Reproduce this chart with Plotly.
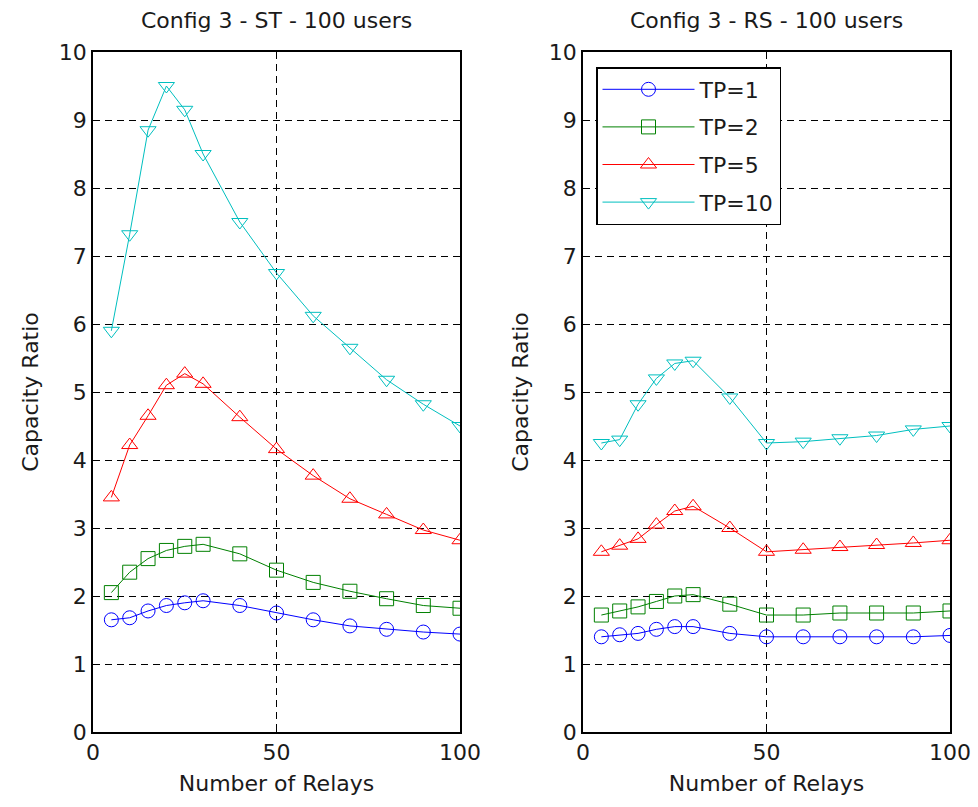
import plotly.graph_objects as go

# Number of relays (shared x values for every curve)
relays = [5, 10, 15, 20, 25, 30, 40, 50, 60, 70, 80, 90, 100]

# Capacity ratio, ST scheme
st_tp1 = [1.65, 1.68, 1.78, 1.86, 1.90, 1.93, 1.86, 1.75, 1.65, 1.56, 1.51, 1.47, 1.44]
st_tp2 = [2.05, 2.35, 2.55, 2.67, 2.73, 2.76, 2.62, 2.38, 2.20, 2.07, 1.96, 1.86, 1.82]
st_tp5 = [3.45, 4.22, 4.65, 5.10, 5.27, 5.12, 4.63, 4.16, 3.77, 3.43, 3.20, 2.97, 2.82]
st_tp10 = [5.90, 7.32, 8.85, 9.50, 9.15, 8.50, 7.50, 6.75, 6.12, 5.65, 5.18, 4.82, 4.50]

# Capacity ratio, RS scheme
rs_tp1 = [1.40, 1.43, 1.45, 1.51, 1.55, 1.55, 1.45, 1.40, 1.40, 1.40, 1.40, 1.40, 1.42]
rs_tp2 = [1.72, 1.78, 1.84, 1.92, 2.00, 2.02, 1.88, 1.72, 1.72, 1.75, 1.75, 1.75, 1.78]
rs_tp5 = [2.65, 2.74, 2.84, 3.05, 3.25, 3.32, 3.00, 2.65, 2.68, 2.72, 2.75, 2.78, 2.82]
rs_tp10 = [4.25, 4.30, 4.82, 5.20, 5.42, 5.46, 4.92, 4.25, 4.27, 4.32, 4.36, 4.45, 4.50]

series_names = ["TP=1", "TP=2", "TP=5", "TP=10"]
colors = ["#0000ff", "#008000", "#ff0000", "#00bfbf"]
symbols = ["circle-open", "square-open", "triangle-up-open", "triangle-down-open"]

panel_titles = ["Config 3 - ST - 100 users", "Config 3 - RS - 100 users"]
x_label = "Number of Relays"
y_label = "Capacity Ratio"
x_ticks = [0, 50, 100]
y_ticks = list(range(0, 11))

FONT = "DejaVu Sans, Arial, sans-serif"
TEXT = "#1a1a1a"
W, H = 978, 807

fig = go.Figure()

panels = [
    ("x", "y", [st_tp1, st_tp2, st_tp5, st_tp10], False),
    ("x2", "y2", [rs_tp1, rs_tp2, rs_tp5, rs_tp10], True),
]
for xa, ya, data, show in panels:
    for i, vals in enumerate(data):
        fig.add_trace(go.Scatter(
            x=relays, y=vals, xaxis=xa, yaxis=ya,
            mode="lines+markers", name=series_names[i],
            legendgroup=series_names[i], showlegend=show,
            line=dict(color=colors[i], width=1),
            marker=dict(symbol=symbols[i], size=14, color=colors[i],
                        line=dict(width=1, color=colors[i])),
        ))

x_domains = [[93 / W, 460 / W], [583 / W, 950 / W]]
y_domain = [75 / H, 755 / H]

axis_common = dict(
    showline=True, linecolor="black", linewidth=1.5, mirror=True,
    ticks="inside", ticklen=4, tickcolor="black",
    showgrid=True, gridcolor="black", griddash="7px,5px", gridwidth=1,
    zeroline=False, automargin=False,
    tickfont=dict(family=FONT, size=22, color=TEXT),
)

for k, suffix in enumerate(["", "2"]):
    fig.layout["xaxis" + suffix] = dict(
        axis_common, domain=x_domains[k], range=[0, 100],
        tickvals=x_ticks, anchor="y" + suffix,
        title=dict(text=x_label, font=dict(family=FONT, size=22, color=TEXT),
                   standoff=11),
    )
    fig.layout["yaxis" + suffix] = dict(
        axis_common, domain=y_domain, range=[0, 10],
        tickvals=y_ticks, anchor="x" + suffix,
        title=dict(text=y_label, font=dict(family=FONT, size=22, color=TEXT),
                   standoff=14),
    )
    fig.add_annotation(
        text=panel_titles[k], xref="paper", yref="paper",
        x=sum(x_domains[k]) / 2, y=1 - 21 / H,
        showarrow=False, xanchor="center", yanchor="middle",
        font=dict(family=FONT, size=22, color=TEXT),
    )

fig.update_layout(
    width=W, height=H,
    margin=dict(l=0, r=0, t=0, b=0),
    paper_bgcolor="white", plot_bgcolor="white",
    showlegend=True,
    legend=dict(
        x=596 / W, y=1 - 67 / H, xanchor="left", yanchor="top",
        bordercolor="black", borderwidth=1.5, bgcolor="white",
        font=dict(family=FONT, size=22, color=TEXT),
        traceorder="grouped", tracegroupgap=6, itemwidth=92,
    ),
)

fig.write_html(
    "out.html",
    post_script="document.body.style.margin='0';document.body.style.overflow='hidden';",
)
